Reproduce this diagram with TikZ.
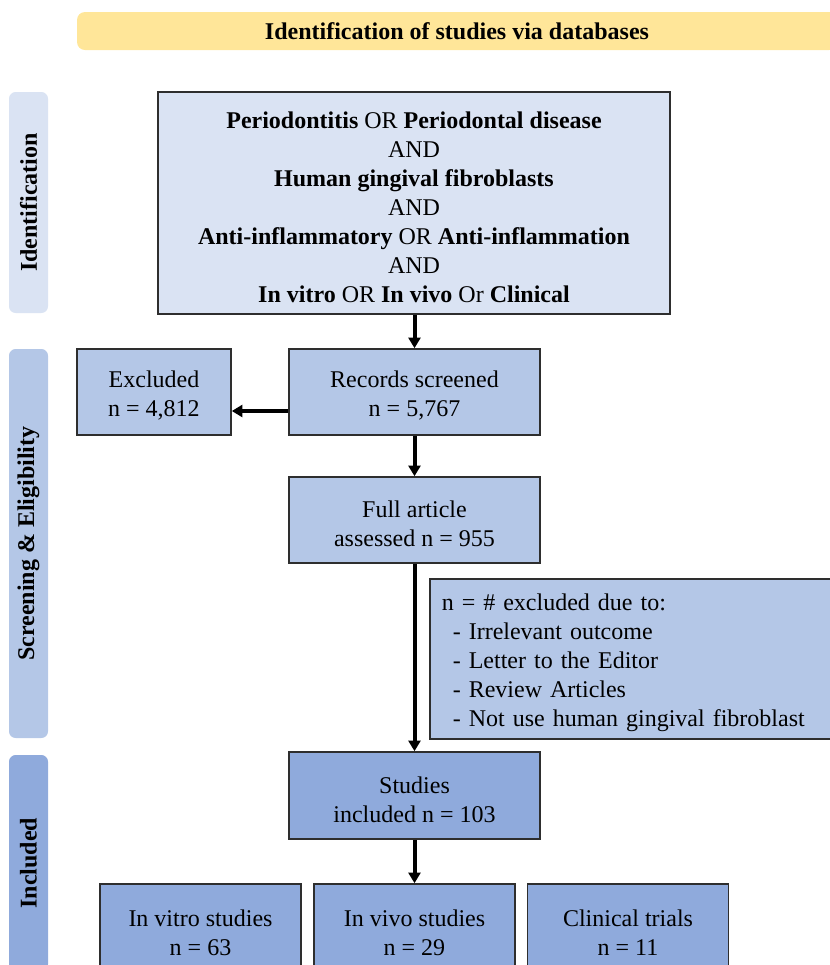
\documentclass[tikz,border=0pt]{standalone}
\usepackage{fontspec}
\setmainfont{Liberation Serif}
\usetikzlibrary{arrows.meta}
\definecolor{bannercol}{HTML}{FFE699}
\definecolor{litecol}{HTML}{DAE3F3}
\definecolor{midcol}{HTML}{B4C7E7}
\definecolor{darkcol}{HTML}{8FAADC}
\definecolor{edgecol}{HTML}{2E2E2E}
\newcommand\liftline{\rule{0pt}{18.3pt}}
\begin{document}
\begin{tikzpicture}[x=0.75pt,y=-0.75pt,
  every node/.style={font=\fontsize{18}{21.75}\selectfont, inner sep=0pt},
  box/.style={draw=edgecol, line width=1.2pt, align=center},
  sidelab/.style={rounded corners=5pt, rotate=90, font=\fontsize{18}{21.75}\selectfont\bfseries, minimum height=39*0.75pt},
  arr/.style={line width=3pt, -{Triangle[length=8pt,width=9pt]}}]
\useasboundingbox (0,0) rectangle (830,965);
\clip (0,0) rectangle (830,965);

% banner
\node[fill=bannercol, rounded corners=6pt, minimum width=760*0.75pt, minimum height=38*0.75pt,
      font=\fontsize{18}{21.75}\selectfont\bfseries] (banner) at (457,31) {Identification of studies via databases};

% side labels
\node[sidelab, fill=litecol, minimum width=221*0.75pt] (idlab) at (28.5,202.5) {Identification};
\node[sidelab, fill=midcol, minimum width=389*0.75pt] (sclab) at (28.5,543.5) {Screening \& Eligibility};
\node[sidelab, fill=darkcol, minimum width=216*0.75pt] (inlab) at (28.5,863) {Included};

% boxes
\node[box, fill=litecol, minimum width=512*0.75pt, minimum height=222*0.75pt] (query) at (414,203)
  {\liftline\textbf{Periodontitis} OR \textbf{Periodontal disease}\\AND\\\textbf{Human gingival fibroblasts}\\AND\\
   \textbf{Anti-inflammatory} OR \textbf{Anti-inflammation}\\AND\\\textbf{In vitro} OR \textbf{In vivo} Or \textbf{Clinical}};
\node[box, fill=midcol, minimum width=251*0.75pt, minimum height=86*0.75pt] (rec) at (414.5,392) {\liftline Records screened\\n = 5,767};
\node[box, fill=midcol, minimum width=154*0.75pt, minimum height=86*0.75pt] (exc) at (154,392) {\liftline Excluded\\n = 4,812};
\node[box, fill=midcol, minimum width=251*0.75pt, minimum height=86*0.75pt] (full) at (414.5,520) {\liftline Full article\\assessed n = 955};
\node[box, fill=midcol, anchor=west, align=left, text width=396*0.75pt, inner xsep=12*0.75pt,
      minimum height=160*0.75pt] (note) at (429,659)
  {\liftline n = \# excluded due to:\\
   \hspace*{8.25pt}- Irrelevant outcome\\
   \hspace*{8.25pt}- Letter to the Editor\\
   \hspace*{8.25pt}- Review Articles\\
   \hspace*{8.25pt}- Not use human gingival fibroblast};
\node[box, fill=darkcol, minimum width=251*0.75pt, minimum height=87*0.75pt] (stud) at (414.5,795.5) {\liftline Studies\\included n = 103};
\node[box, fill=darkcol, minimum width=201*0.75pt, minimum height=90*0.75pt] (vitro) at (200.5,929) {\liftline In vitro studies\\n = 63};
\node[box, fill=darkcol, minimum width=201*0.75pt, minimum height=90*0.75pt] (vivo) at (414.5,929) {\liftline In vivo studies\\n = 29};
\node[box, fill=darkcol, minimum width=201*0.75pt, minimum height=90*0.75pt] (clin) at (628,929) {\liftline Clinical trials\\n = 11};

% arrows
\draw[arr] (query.south -| rec.north) -- (rec.north);
\draw[arr] ([yshift=-14.25pt]rec.west) -- ([yshift=-14.25pt]exc.east);
\draw[arr] (rec.south) -- (full.north);
\draw[arr] (full.south) -- (stud.north);
\draw[arr] (stud.south) -- (vivo.north);
\end{tikzpicture}
\end{document}
